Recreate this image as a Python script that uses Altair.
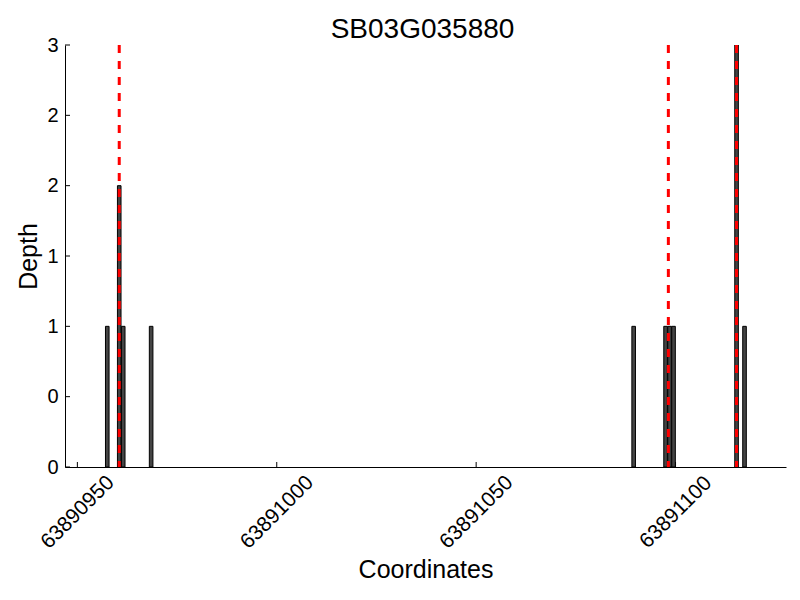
import altair as alt
import pandas as pd

# Data
positions = [63890957.5, 63890960.5, 63890961.5, 63890968.5, 63891089.5,
             63891097.5, 63891098.5, 63891099.5, 63891115.3, 63891117.3]
depths = [1, 2, 1, 1, 1, 1, 1, 1, 3, 1]
gene_bounds = [63890960.5, 63891098.2, 63891115.3]
x_ticks = [63890950, 63891000, 63891050, 63891100]
y_ticks = [0, 0.5, 1, 1.5, 2, 2.5, 3]
x_domain = [63890946.9, 63891127.7]
y_domain = [0, 3]
title_text = ["SB03G035880"]

bars_df = pd.DataFrame({"pos": positions, "depth": depths})
bounds_df = pd.DataFrame({"pos": gene_bounds})
xt_df = pd.DataFrame({"t": x_ticks})
yt_df = pd.DataFrame({"t": y_ticks})
title_df = pd.DataFrame({"title": title_text})

W, H = 721, 422
FONT = "Liberation Sans"

xscale = alt.Scale(domain=x_domain, nice=False, zero=False)
yscale = alt.Scale(domain=y_domain, nice=False, zero=False)

xaxis = alt.Axis(
    values=x_ticks, ticks=False, grid=False, domainColor="black", domainWidth=1,
    labelAngle=-45, labelAlign="center", labelBaseline="middle", labelPadding=45,
    labelFontSize=21, labelColor="black", labelFont=FONT, format="d",
    title="Coordinates", titleFontSize=25, titleFont=FONT, titleFontWeight="normal",
    titleColor="black", titleX=W / 2, titleY=110, titleBaseline="alphabetic",
    titleAlign="center", labelFlush=False, labelOverlap=False,
)
yaxis = alt.Axis(
    values=y_ticks, ticks=False, grid=False, domainColor="black", domainWidth=1,
    labelPadding=7, labelFontSize=20, labelColor="black", labelFont=FONT,
    labelExpr="'' + floor(datum.value)", labelFlush=False, labelOverlap=False,
    title="Depth", titleFontSize=25, titleFont=FONT, titleFontWeight="normal",
    titleColor="black", titleX=-29, titleY=H / 2, titleAngle=-90,
    titleBaseline="alphabetic", titleAlign="center",
)

bars = alt.Chart(bars_df).transform_calculate(
    x0="datum.pos - 0.45", x1="datum.pos + 0.45"
).mark_bar(fill="#444444", stroke="black", strokeWidth=1, clip=True).encode(
    x=alt.X("x0:Q", scale=xscale, axis=xaxis),
    x2="x1:Q",
    y=alt.Y("depth:Q", scale=yscale, axis=yaxis),
    y2=alt.datum(0),
)

lines = alt.Chart(bounds_df).mark_rule(
    color="red", strokeWidth=3, strokeDash=[8, 8]
).encode(
    x=alt.X("pos:Q", scale=xscale),
    y=alt.value(0),
    y2=alt.value(H),
)

xticks = alt.Chart(xt_df).mark_rule(color="black", strokeWidth=1).encode(
    x=alt.X("t:Q", scale=xscale),
    y=alt.value(H),
    y2=alt.value(H - 5),
)

yticks = alt.Chart(yt_df).mark_rule(color="black", strokeWidth=1).encode(
    y=alt.Y("t:Q", scale=yscale),
    x=alt.value(0),
    x2=alt.value(5),
)

title = alt.Chart(title_df).mark_text(
    font=FONT, fontSize=28, color="black", align="center", baseline="alphabetic"
).encode(
    text="title:N",
    x=alt.value(W / 2 - 3),
    y=alt.value(-7),
)

chart = alt.layer(bars, lines, xticks, yticks, title).properties(
    width=W,
    height=H,
    autosize=alt.AutoSizeParams(type="none"),
    padding={"left": 57, "top": 37, "right": 6, "bottom": 125},
).configure(background="white").configure_view(strokeWidth=0, stroke="transparent")

chart.save("out.html", embed_options={"renderer": "svg", "actions": False})
